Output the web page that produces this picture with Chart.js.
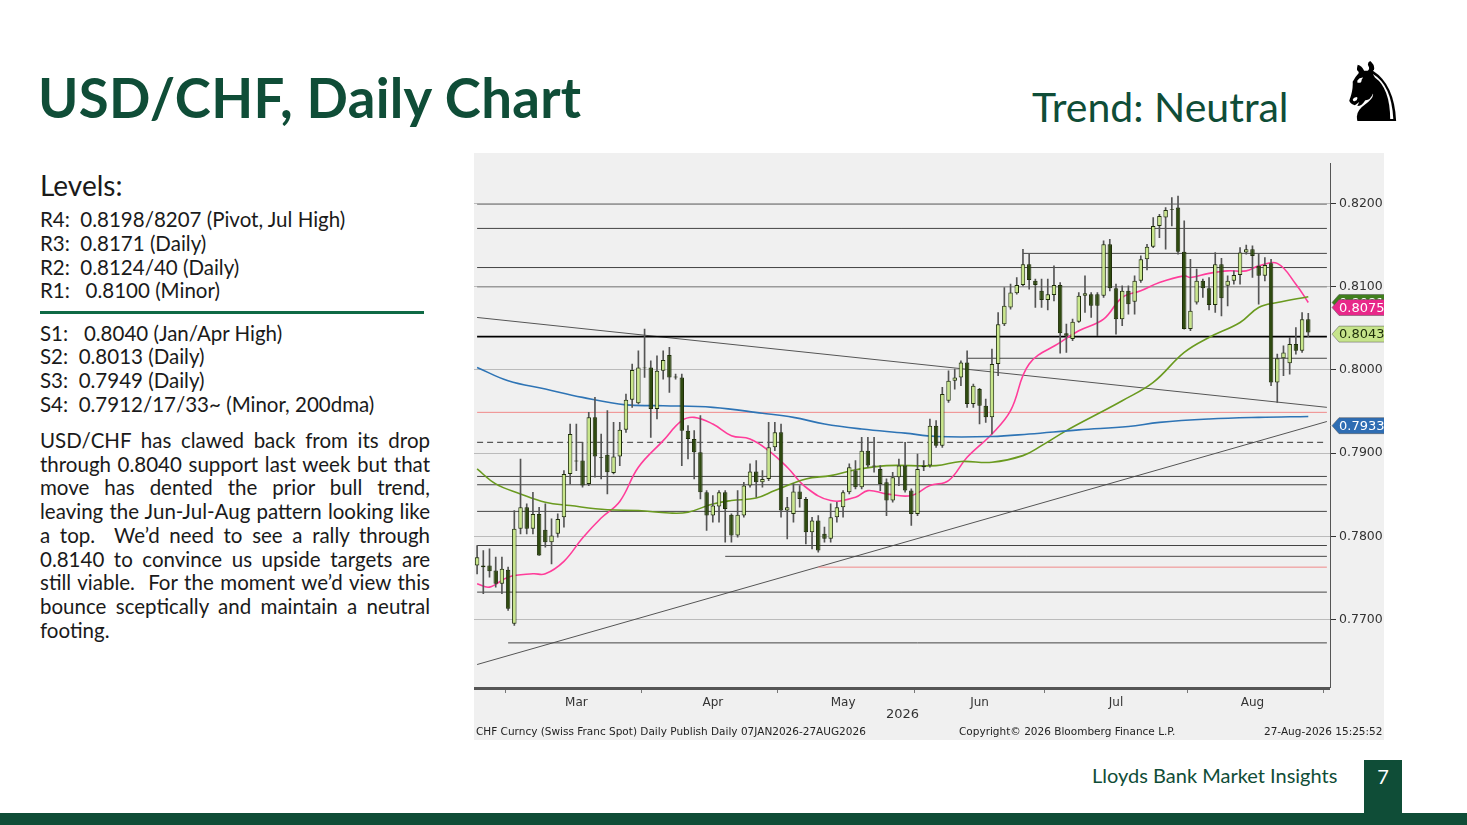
<!DOCTYPE html>
<html>
<head>
<meta charset="utf-8">
<script src="https://cdn.jsdelivr.net/npm/chart.js@4"></script>
<style>
  body { margin: 0; width: 1467px; height: 825px; background: #fff; position: relative; overflow: hidden; font-family: Lato, "Open Sans", sans-serif; color: #1a1a1a; }
  .abs { position: absolute; }
  #title { left: 38px; top: 64px; font-size: 54.5px; font-weight: 700; color: #0f4d37; letter-spacing: 0.3px; }
  #trend { left: 1032px; top: 82px; font-size: 41px; color: #0f4d37; }
  #horse { left: 1336px; top: 52px; font-size: 82px; line-height: 82px; color: #000; font-family: "DejaVu Sans"; }
  #levels { left: 40px; top: 168px; font-size: 28px; }
  .lv { left: 40px; font-size: 20.5px; }
  #rule { left: 40px; top: 311px; width: 384px; height: 3px; background: #0f6a45; }
  #para { left: 40px; top: 429px; width: 390px; font-size: 20.5px; line-height: 23.7px; text-align: justify; }
  #box { left: 1364px; top: 760px; width: 38px; height: 53px; background: #0f4d37; color: #fff; font-size: 20px; text-align: center; line-height: 32px; }
  #bar { left: 0; top: 813px; width: 1467px; height: 12px; background: #0f4d37; }
  #brand { left: 1092px; top: 763px; font-size: 20px; color: #0f4d37; }
  #wrap { left: 474px; top: 153px; width: 910px; height: 587px; background: #f0f0f0; }
  .foot { font-family: "DejaVu Sans", sans-serif; font-size: 10.5px; color: #222; top: 725px; }
</style>
</head>
<body>
<div id="title" class="abs">USD/CHF, Daily Chart</div>
<div id="trend" class="abs">Trend: Neutral</div>
<div id="horse" class="abs">♞</div>
<div id="levels" class="abs">Levels:</div>
<div class="abs lv" style="top:207px">R4:&nbsp; 0.8198/8207 (Pivot, Jul High)</div>
<div class="abs lv" style="top:231px">R3:&nbsp; 0.8171 (Daily)</div>
<div class="abs lv" style="top:255px">R2:&nbsp; 0.8124/40 (Daily)</div>
<div class="abs lv" style="top:278px">R1:&nbsp;&nbsp; 0.8100 (Minor)</div>
<div id="rule" class="abs"></div>
<div class="abs lv" style="top:321px">S1:&nbsp;&nbsp; 0.8040 (Jan/Apr High)</div>
<div class="abs lv" style="top:344px">S2:&nbsp; 0.8013 (Daily)</div>
<div class="abs lv" style="top:368px">S3:&nbsp; 0.7949 (Daily)</div>
<div class="abs lv" style="top:392px">S4:&nbsp; 0.7912/17/33~ (Minor, 200dma)</div>
<div id="para" class="abs">USD/CHF has clawed back from its drop through 0.8040 support last week but that move has dented the prior bull trend, leaving the Jun-Jul-Aug pattern looking like a top.&nbsp; We’d need to see a rally through 0.8140 to convince us upside targets are still viable.&nbsp; For the moment we’d view this bounce sceptically and maintain a neutral footing.</div>
<div id="wrap" class="abs"><canvas id="c" width="910" height="587"></canvas></div>
<div class="abs foot" style="left:476px">CHF Curncy (Swiss Franc Spot) Daily Publish Daily 07JAN2026-27AUG2026</div>
<div class="abs foot" style="left:959px">Copyright© 2026 Bloomberg Finance L.P.</div>
<div class="abs foot" style="left:1264px">27-Aug-2026 15:25:52</div>
<div class="abs" style="left:886px;top:706px;font-size:13px;color:#333;font-family:'DejaVu Sans'">2026</div>
<div id="brand" class="abs">Lloyds Bank Market Insights</div>
<div id="box" class="abs">7</div>
<div id="bar" class="abs"></div>
<script>
const opens = [.7765,.7763,.7765,.7759,.7743,.7760,.7695,.7809,.7835,.7809,.7827,.7808,.7793,.7803,.7823,.7875,.7890,.7891,.7863,.7943,
  .7894,.7898,.7876,.7896,.7928,.7964,.7960,.8002,.8003,.7953,.7999,.8018,.7992,.7991,.7927,.7917,.7901,.7853,.7825,.7836,
  .7853,.7826,.7801,.7825,.7861,.7878,.7865,.7869,.7907,.7925,.7831,.7827,.7854,.7845,.7805,.7819,.7803,.7797,.7823,.7835,
  .7853,.7879,.7859,.7903,.7884,.7881,.7865,.7843,.7871,.7885,.7855,.7827,.7883,.7885,.7933,.7909,.7963,.7987,.7991,.8009,
  .7959,.7977,.7957,.7943,.8007,.8055,.8075,.8092,.8102,.8127,.8107,.8095,.8084,.8090,.8102,.8044,.8037,.8058,.8089,.8091,
  .8091,.8089,.8151,.8098,.8061,.8095,.8082,.8107,.8133,.8148,.8173,.8183,.8192,.8195,.8142,.8049,.8081,.8107,.8098,.8078,
  .8127,.8101,.8107,.8114,.8141,.8145,.8125,.8113,.8128,.7985,.8014,.8008,.8031,.8023,.8061];
const highs = [.7789,.7783,.7785,.7775,.7775,.7763,.7831,.7893,.7839,.7853,.7835,.7839,.7821,.7827,.7879,.7935,.7935,.7913,.7949,.7967,
  .7923,.7951,.7937,.7937,.7971,.8007,.8023,.8049,.8011,.8017,.8023,.8027,.7995,.7995,.7933,.7927,.7945,.7855,.7849,.7855,
  .7855,.7827,.7855,.7865,.7887,.7891,.7879,.7937,.7937,.7935,.7847,.7863,.7861,.7847,.7823,.7825,.7811,.7839,.7841,.7855,
  .7887,.7891,.7919,.7919,.7919,.7885,.7869,.7877,.7893,.7913,.7857,.7899,.7891,.7941,.7939,.7979,.7999,.8001,.8011,.8023,
  .7983,.7978,.7965,.8025,.8069,.8099,.8103,.8111,.8145,.8139,.8109,.8109,.8109,.8125,.8105,.8055,.8061,.8093,.8113,.8093,
  .8093,.8155,.8157,.8103,.8101,.8101,.8113,.8137,.8151,.8183,.8187,.8195,.8207,.8209,.8179,.8133,.8121,.8109,.8111,.8141,
  .8134,.8113,.8119,.8147,.8150,.8149,.8139,.8135,.8133,.8019,.8029,.8039,.8051,.8069,.8068];
const lows = [.7755,.7731,.7751,.7739,.7731,.7711,.7693,.7803,.7803,.7803,.7777,.7787,.7767,.7799,.7811,.7863,.7879,.7859,.7861,.7871,
  .7869,.7851,.7875,.7885,.7925,.7955,.7959,.7991,.7919,.7941,.7989,.7973,.7989,.7885,.7893,.7869,.7845,.7807,.7817,.7817,
  .7793,.7793,.7799,.7823,.7859,.7847,.7859,.7867,.7903,.7823,.7797,.7817,.7835,.7791,.7785,.7781,.7793,.7793,.7817,.7823,
  .7851,.7857,.7857,.7883,.7877,.7855,.7825,.7841,.7861,.7853,.7813,.7825,.7879,.7883,.7907,.7907,.7961,.7977,.7981,.7955,
  .7955,.7935,.7937,.7923,.7993,.8053,.8073,.8091,.8101,.8097,.8075,.8075,.8072,.8083,.8020,.8021,.8035,.8057,.8069,.8063,
  .8041,.8087,.8095,.8043,.8053,.8067,.8067,.8105,.8120,.8147,.8159,.8145,.8173,.8139,.8049,.8047,.8079,.8087,.8072,.8069,
  .8065,.8077,.8103,.8103,.8139,.8111,.8079,.8107,.7981,.7961,.7993,.7995,.8019,.8021,.8040];
const closes = [.7775,.7765,.7758,.7743,.7761,.7713,.7809,.7835,.7809,.7827,.7777,.7793,.7801,.7821,.7875,.7923,.7891,.7861,.7943,.7896,
  .7895,.7877,.7896,.7928,.7964,.8000,.8003,.8003,.7953,.7999,.8012,.7991,.7991,.7927,.7917,.7901,.7853,.7825,.7837,.7853,
  .7833,.7801,.7826,.7861,.7878,.7865,.7869,.7907,.7925,.7831,.7835,.7854,.7845,.7805,.7819,.7783,.7797,.7823,.7835,.7853,
  .7883,.7859,.7903,.7885,.7885,.7863,.7843,.7871,.7885,.7855,.7827,.7881,.7885,.7933,.7909,.7971,.7987,.7991,.8009,.7959,
  .7981,.7957,.7943,.8007,.8055,.8077,.8093,.8102,.8127,.8108,.8102,.8084,.8091,.8102,.8044,.8041,.8058,.8089,.8092,.8077,
  .8077,.8151,.8098,.8061,.8095,.8079,.8107,.8133,.8148,.8173,.8185,.8192,.8193,.8142,.8049,.8071,.8107,.8098,.8078,.8127,
  .8086,.8107,.8114,.8141,.8145,.8137,.8113,.8126,.7985,.8014,.8021,.8031,.8023,.8061,.8045];

// moving averages: [day index, value]
const ma21 = [[0,.7743],[2,.7739],[5,.7751],[9,.7755],[11,.7755],[14,.7770],[17,.7798],[20,.7822],[23,.7842],[26,.7883],[30,.7915],[33,.7939],[35,.7943],[38,.7935],[41,.7921],[44,.7917],[47,.7903],[50,.7883],[53,.7859],[57,.7843],[61,.7847],[63,.7855],[66,.7851],[70,.7849],[73,.7861],[76,.7867],[79,.7895],[83,.7923],[86,.7951],[89,.8007],[94,.8033],[97,.8047],[101,.8061],[104,.8087],[107,.8095],[110,.8105],[114,.8113],[115,.8111],[118,.8116],[121,.8119],[124,.8119],[126,.8125],[129,.8128],[132,.8103],[134,.8081]];
const ma50 = [[0,.7881],[3,.7863],[7,.7851],[11,.7841],[15,.7837],[21,.7832],[26,.7831],[31,.7828],[34,.7829],[38,.7839],[41,.7843],[45,.7846],[48,.7855],[53,.7869],[57,.7873],[61,.7880],[66,.7885],[74,.7885],[78,.7890],[83,.7889],[88,.7897],[91,.7909],[95,.7927],[100,.7947],[104,.7963],[109,.7985],[114,.8021],[118,.8039],[123,.8057],[126,.8075],[129,.8081],[134,.8088]];
const ma200 = [[0,.8003],[5,.7987],[11,.7977],[17,.7967],[24,.7958],[30,.7957],[38,.7955],[46,.7948],[51,.7943],[56,.7935],[62,.7929],[69,.7924],[74,.7920],[83,.7920],[89,.7923],[97,.7928],[105,.7932],[110,.7937],[118,.7941],[126,.7943],[134,.7944]];

// horizontal levels: [value, start index, colour kind]
const levels = [[.8199,0,'g'],[.8170,0,'k'],[.8140,88,'k'],[.8123,0,'k'],[.8100,0,'g'],[.8040,0,'b'],[.8014,79,'k'],[.7949,0,'r'],
  [.7872,0,'k'],[.7862,0,'k'],[.7830,0,'k'],[.7789,0,'k'],[.7776,40,'k'],[.7763,55,'r'],[.7733,0,'k'],[.7672,5,'k']];
const dashedLevel = .7913;
// trend lines: [start value, end value]
const trendDown = [.8063, .7955];
const trendUp = [.7646, .7938];

const months = { 16: 'Mar', 38: 'Apr', 59: 'May', 81: 'Jun', 103: 'Jul', 125: 'Aug' };
const monthStarts = [5, 27, 49, 71, 92, 115, 137];
const yTicks = [.77, .78, .79, .80, .81, .82];
const tags = [[.8081, '#3f7f1d', '#fff'], [.8075, '#e8288a', '#fff'], [.8043, '#c6e48b', '#1d2d0a'], [.7933, '#2e6db3', '#fff']];

const N = 138;
const last = N - 1;
const labels = Array.from({ length: N }, (_, i) => months[i] || '');

function sparse(points) {
  const arr = new Array(N).fill(null);
  points.forEach(p => arr[p[0]] = p[1]);
  return arr;
}
function pad(a) { return a.concat(new Array(N - a.length).fill(null)); }

const bodies = pad(opens.map((o, i) => [o, closes[i]]));
const wicks = pad(lows.map((l, i) => [l, highs[i]]));
const isUp = i => i < closes.length && closes[i] >= opens[i];

const datasets = [];
const lvColors = { g: '#9a9a9a', k: '#444', b: '#000', r: '#f08a8a' };
levels.forEach(l => {
  datasets.push({ type: 'line', data: sparse([[l[1], l[0]], [last, l[0]]]), spanGaps: true, pointRadius: 0,
    borderColor: lvColors[l[2]], borderWidth: l[2] === 'b' || l[2] === 'g' ? 1.6 : 1, order: 5 });
});
datasets.push({ type: 'line', data: sparse([[0, dashedLevel], [last, dashedLevel]]), spanGaps: true, pointRadius: 0,
  borderColor: '#333', borderWidth: 1, borderDash: [6, 4], order: 5 });
datasets.push({ type: 'line', data: sparse([[0, trendDown[0]], [last, trendDown[1]]]), spanGaps: true, pointRadius: 0, borderColor: '#555', borderWidth: 1, order: 5 });
datasets.push({ type: 'line', data: sparse([[0, trendUp[0]], [last, trendUp[1]]]), spanGaps: true, pointRadius: 0, borderColor: '#555', borderWidth: 1, order: 5 });
datasets.push({ type: 'line', data: sparse(ma200), spanGaps: true, pointRadius: 0, borderColor: '#2e74b5', borderWidth: 1.6, tension: 0.4, order: 4 });
datasets.push({ type: 'line', data: sparse(ma50), spanGaps: true, pointRadius: 0, borderColor: '#6a9a1f', borderWidth: 1.6, tension: 0.4, order: 4 });
datasets.push({ type: 'line', data: sparse(ma21), spanGaps: true, pointRadius: 0, borderColor: '#ff3d9a', borderWidth: 1.6, tension: 0.4, order: 4 });
datasets.push({ type: 'bar', data: wicks, grouped: false, barThickness: 1, backgroundColor: '#555', order: 2 });
datasets.push({ type: 'bar', data: bodies, grouped: false, barPercentage: 0.72, categoryPercentage: 1, order: 1,
  backgroundColor: c => isUp(c.dataIndex) ? '#c8e68a' : '#2f4a10', borderColor: '#1f2f0a', borderWidth: 1, borderSkipped: false });

const tagPlugin = {
  id: 'tags',
  afterDraw(chart) {
    const ctx = chart.ctx, y = chart.scales.y, x0 = chart.chartArea.right;
    ctx.save();
    ctx.font = '13px "DejaVu Sans"';
    ctx.textBaseline = 'middle';
    tags.forEach(t => {
      const py = y.getPixelForValue(t[0]);
      ctx.fillStyle = t[1];
      ctx.beginPath();
      ctx.moveTo(x0 + 2, py);
      ctx.lineTo(x0 + 9, py - 8);
      ctx.lineTo(x0 + 56, py - 8);
      ctx.lineTo(x0 + 56, py + 8);
      ctx.lineTo(x0 + 9, py + 8);
      ctx.closePath();
      ctx.fill();
      ctx.strokeStyle = '#555'; ctx.lineWidth = 0.5; ctx.stroke();
      ctx.fillStyle = t[2];
      ctx.fillText(t[0].toFixed(4), x0 + 9, py + 1);
    });
    ctx.fillStyle = '#555';
    ctx.fillRect(0, chart.chartArea.bottom, x0, 3);
    ctx.restore();
  }
};

new Chart(document.getElementById('c'), {
  data: { labels, datasets },
  plugins: [tagPlugin],
  options: {
    responsive: false, animation: false,
    layout: { padding: { top: 2, right: 0, left: 0, bottom: 0 } },
    plugins: { legend: { display: false }, tooltip: { enabled: false } },
    scales: {
      x: {
        offset: true,
        grid: { drawOnChartArea: false, tickLength: 6, color: c => monthStarts.includes(c.index) ? '#777' : 'rgba(0,0,0,0)' },
        border: { color: '#555' },
        ticks: { autoSkip: false, maxRotation: 0, color: '#333', font: { family: 'DejaVu Sans', size: 12 } },
        afterFit: s => { s.height = 53; }
      },
      y: {
        position: 'right', min: .7619, max: .8248,
        afterBuildTicks: s => { s.ticks = yTicks.map(v => ({ value: v })); },
        grid: { color: '#bbb', borderDash: [2, 3], tickLength: 6, tickColor: '#333' },
        border: { color: '#555' },
        ticks: { color: '#333', font: { family: 'DejaVu Sans', size: 12.5 }, callback: v => v.toFixed(4) },
        afterFit: s => { s.width = 54; }
      }
    }
  }
});
</script>
</body>
</html>
